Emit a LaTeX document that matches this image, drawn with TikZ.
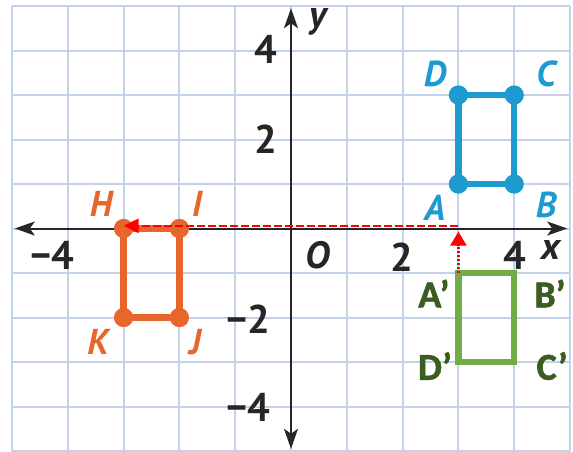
\documentclass[tikz,border=0pt]{standalone}
\usepackage{fontspec}
\setmainfont{PT Sans}
\newfontfamily\primefont{Carlito Bold}[FakeBold=1.6]
\usetikzlibrary{arrows.meta}
\definecolor{gridc}{HTML}{C3D2E8}
\definecolor{orng}{HTML}{E8662C}
\definecolor{blu}{HTML}{1D9AD0}
\definecolor{grn}{HTML}{70AD47}
\definecolor{dgrn}{HTML}{3B5E20}
\definecolor{ink}{HTML}{262626}
\definecolor{redc}{HTML}{FF0000}
\begin{document}
\begin{tikzpicture}[x=27.9pt,y=22.25pt,
  gridline/.style={draw=gridc,line width=1pt},
  axis/.style={draw=ink,line width=1pt,
    {Stealth[length=10pt,width=7pt,inset=2.5pt]}-{Stealth[length=10pt,width=7pt,inset=2.5pt]}},
  odot/.style={circle,fill=orng,inner sep=0pt,minimum size=9.5pt},
  bdot/.style={circle,fill=blu,inner sep=0pt,minimum size=9.5pt},
  oside/.style={draw=orng,line width=3.2pt,line join=round},
  bside/.style={draw=blu,line width=3.2pt,line join=round},
  gside/.style={draw=grn,line width=3.3pt,line join=miter},
  olab/.style={text=orng,font=\fontsize{18}{18}\selectfont\bfseries\itshape},
  blab/.style={text=blu,font=\fontsize{18}{18}\selectfont\bfseries\itshape},
  tick/.style={text=ink,font=\fontsize{20}{20}\selectfont\bfseries},
  axlab/.style={text=ink,font=\fontsize{19}{19}\selectfont\bfseries\itshape},
  plab/.style={text=dgrn,font=\primefont\fontsize{19}{19}\selectfont},
  reddash/.style={draw=redc,line width=1.3pt,dash pattern=on 4pt off 1.5pt,
    -{Triangle[length=7.5pt,width=7pt]}},
  reddot/.style={draw=redc,line width=1.3pt,dash pattern=on 1pt off 1pt,
    -{Triangle[length=7pt,width=8pt]}}
]
\useasboundingbox (-5.215,-5.022) rectangle (5.054,5.135);
\fill[white] (-5.215,-5.022) rectangle (5.054,5.135);
% grid
\draw[gridline] (-5,-5) grid[step=1] (5,5);
% axes
\coordinate (xl) at (-4.95,0);
\coordinate (xr) at (4.95,0);
\coordinate (yb) at (0,-4.95);
\coordinate (yt) at (0,4.95);
\draw[axis] (xl) -- (xr);
\draw[axis] (yb) -- (yt);
% tick labels
\node[tick] (ty4) at (-0.448,4.03) {4};
\node[tick] (ty2) at (-0.448,2.0) {2};
\node[tick] (tym2) at (-0.77,-2.03) {−2};
\node[tick] (tym4) at (-0.77,-4.01) {−4};
\node[tick] (txm4) at (-4.28,-0.6) {−4};
\node[axlab] (orig) at (0.484,-0.6) {O};
\node[tick] (tx2) at (1.99,-0.64) {2};
\node[tick] (tx4) at (4.01,-0.6) {4};
\node[axlab] (xlab) at (4.66,-0.48) {x};
\node[axlab] (ylab) at (0.484,4.64) {y};
% green image rectangle
\coordinate (Ap) at (3,-1);
\coordinate (Bp) at (4,-1);
\coordinate (Cp) at (4,-3);
\coordinate (Dp) at (3,-3);
\draw[gside] (Ap) -- (Bp) -- (Cp) -- (Dp) -- cycle;
\node[plab] (lAp) at (2.56,-1.46) {A’};
\node[plab] (lBp) at (4.64,-1.46) {B’};
\node[plab] (lDp) at (2.58,-3.09) {D’};
\node[plab] (lCp) at (4.68,-3.09) {C’};
% orange rectangle
\node[odot] (H) at (-3,0) {};
\node[odot] (I) at (-2,0) {};
\node[odot] (J) at (-2,-2) {};
\node[odot] (K) at (-3,-2) {};
\draw[oside] (H.center) -- (I.center) -- (J.center) -- (K.center) -- cycle;
\node[odot] at (H) {};
\node[odot] at (I) {};
\node[odot] at (J) {};
\node[odot] at (K) {};
\node[olab] (lH) at (-3.405,0.55) {H};
\node[olab] (lI) at (-1.685,0.55) {I};
\node[olab] (lJ) at (-1.72,-2.55) {J};
\node[olab] (lK) at (-3.46,-2.55) {K};
% blue rectangle
\node[bdot] (A) at (3,1) {};
\node[bdot] (B) at (4,1) {};
\node[bdot] (C) at (4,3) {};
\node[bdot] (D) at (3,3) {};
\draw[bside] (A.center) -- (B.center) -- (C.center) -- (D.center) -- cycle;
\node[bdot] at (A) {};
\node[bdot] at (B) {};
\node[bdot] at (C) {};
\node[bdot] at (D) {};
\node[blab] (lA) at (2.58,0.46) {A};
\node[blab] (lB) at (4.57,0.53) {B};
\node[blab] (lC) at (4.57,3.47) {C};
\node[blab] (lD) at (2.58,3.47) {D};
% red translation arrows
\coordinate (Hs) at (3,0.06);
\draw[reddash] (Hs) -- (Hs -| H);
\coordinate (Up) at (3,-0.07);
\draw[reddot] (Ap) -- (Up);
\end{tikzpicture}
\end{document}
